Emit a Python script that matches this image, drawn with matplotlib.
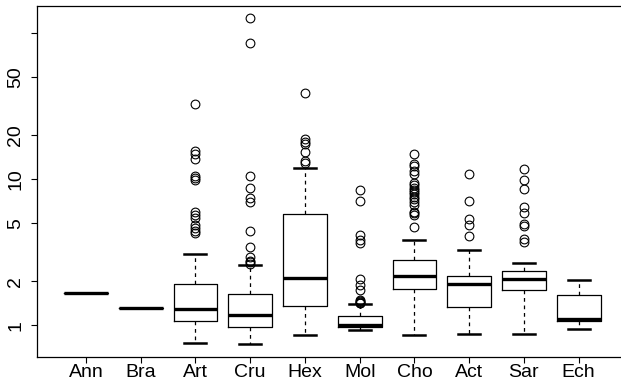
import numpy as np
import matplotlib
matplotlib.use("Agg")
import matplotlib.pyplot as plt

plt.rcParams['font.family'] = ['Liberation Sans', 'DejaVu Sans']

groups = ["Ann", "Bra", "Art", "Cru", "Hex", "Mol", "Cho", "Act", "Sar", "Ech"]

# five-number summaries
whislo = [1.66, 1.31, 0.762, 0.742, 0.855, 0.924, 0.864, 0.868, 0.878, 0.939]
q1     = [1.66, 1.31, 1.065, 0.975, 1.363, 0.975, 1.77, 1.335, 1.76, 1.077]
med    = [1.66, 1.31, 1.30, 1.17, 2.11, 1.00, 2.18, 1.93, 2.08, 1.11]
q3     = [1.66, 1.31, 1.905, 1.64, 5.77, 1.152, 2.80, 2.18, 2.35, 1.61]
whishi = [1.66, 1.31, 3.10, 2.61, 12.0, 1.41, 3.85, 3.29, 2.69, 2.03]

fliers = [
    [],
    [],
    [4.28, 4.46, 4.63, 4.87, 5.42, 5.70, 6.01, 9.85, 10.2, 10.5, 13.7, 14.8, 15.7, 32.5],
    [2.65, 2.70, 2.75, 2.96, 3.46, 4.43, 6.97, 7.5, 8.68, 10.5, 86.0, 126.0],
    [12.9, 13.4, 15.4, 17.4, 18.1, 19.0, 38.7],
    [1.42, 1.43, 1.45, 1.47, 1.50, 1.75, 1.90, 2.07, 3.65, 3.85, 4.16, 7.14, 8.45],
    [4.70, 5.70, 5.86, 6.0, 6.67, 7.04, 7.3, 7.62, 7.9, 8.23, 8.4, 8.7, 9.1, 9.5,
     10.9, 11.4, 12.4, 12.7, 14.9],
    [4.10, 4.87, 5.33, 7.1, 10.9],
    [3.75, 3.89, 4.79, 4.93, 5.91, 6.5, 8.53, 9.9, 11.7],
    [],
]

yticks = [1, 2, 5, 10, 20, 50, 100]
yticklabels = ["1", "2", "5", "10", "20", "50", ""]

stats = []
for i, g in enumerate(groups):
    stats.append(dict(label=g, whislo=whislo[i], q1=q1[i], med=med[i],
                      q3=q3[i], whishi=whishi[i], fliers=fliers[i]))

fig = plt.figure(figsize=(6.21, 3.83), dpi=100)
ax = fig.add_axes([0.0591, 0.0671, 0.952, 0.918])

pos = np.arange(1, len(groups) + 1)
ax.bxp(stats, positions=pos, widths=0.8,
       boxprops=dict(color="black", lw=0.9),
       medianprops=dict(color="black", lw=2.4, solid_capstyle="butt"),
       whiskerprops=dict(color="black", lw=0.9, linestyle=(0, (3, 3))),
       capprops=dict(color="black", lw=1.8),
       flierprops=dict(marker="o", markerfacecolor="none", markeredgecolor="black",
                       markersize=6.3, markeredgewidth=0.8))

ax.set_yscale("log")
ax.set_ylim(0.605, 154)
ax.set_xlim(0.1, 10.9)
ax.minorticks_off()
ax.set_yticks(yticks)
ax.set_yticklabels(yticklabels, rotation=90, va="center")
ax.set_xticks(pos)
ax.set_xticklabels(groups)
ax.tick_params(axis="both", labelsize=14, length=4, width=0.8, color="black")
ax.tick_params(axis="y", pad=5)
ax.tick_params(axis="x", pad=1)
for s in ax.spines.values():
    s.set_linewidth(0.9)

fig.savefig("out.png", dpi=100)
